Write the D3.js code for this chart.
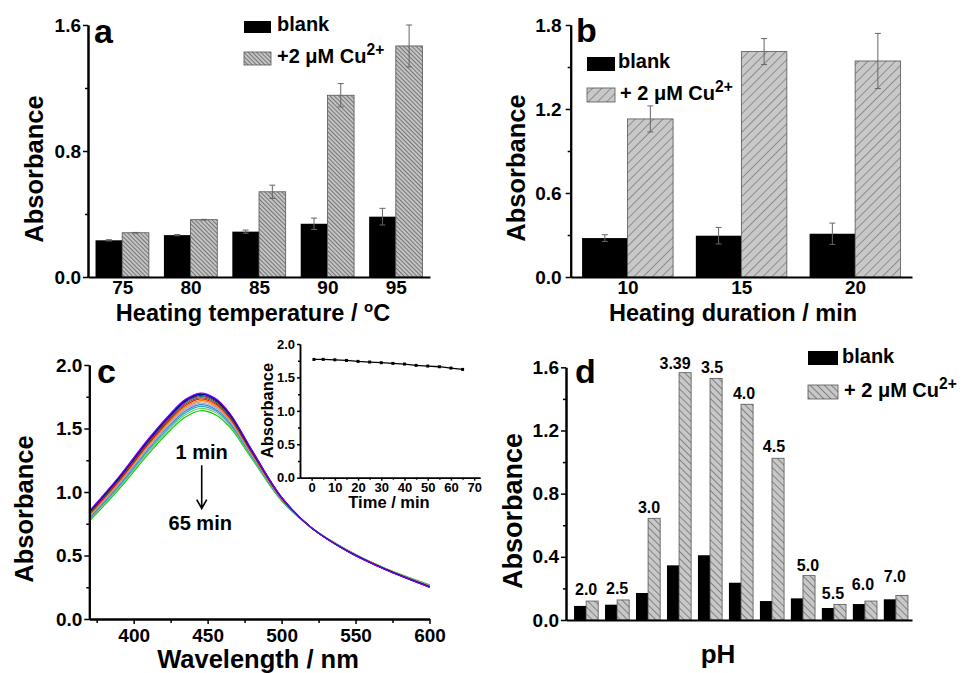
<!DOCTYPE html>
<html>
<head>
<meta charset="utf-8">
<script src="https://cdn.jsdelivr.net/npm/d3@7"></script>
<style>
  body { margin: 0; background: #fff; }
  svg text { font-family: Arial, "Liberation Sans", sans-serif; font-weight: bold; fill: #000; }
  .axis path { stroke: #000; stroke-width: 2; }
  .axis line { stroke: #000; stroke-width: 1.5; }
</style>
</head>
<body>
<svg id="fig" width="970" height="673"></svg>
<script>
// ---- data ----
// (a) heating temperature
const tempCats = [75, 80, 85, 90, 95];
const tempBlank = [0.233, 0.266, 0.288, 0.338, 0.383];
const tempBlankErr = [0.004, 0.004, 0.01, 0.036, 0.053];
const tempCu = [0.281, 0.364, 0.541, 1.154, 1.467];
const tempCuErr = [0.002, 0.002, 0.042, 0.074, 0.133];

// (b) heating duration
const durCats = [10, 15, 20];
const durBlank = [0.278, 0.295, 0.309];
const durBlankErr = [0.024, 0.059, 0.076];
const durCu = [1.129, 1.61, 1.543];
const durCuErr = [0.093, 0.093, 0.197];

// (d) pH
const phCats = ['2.0', '2.5', '3.0', '3.39', '3.5', '4.0', '4.5', '5.0', '5.5', '6.0', '7.0'];
const phBlank = [0.089, 0.097, 0.171, 0.346, 0.41, 0.236, 0.12, 0.137, 0.076, 0.101, 0.131];
const phCu = [0.12, 0.127, 0.644, 1.566, 1.53, 1.366, 1.024, 0.281, 0.099, 0.12, 0.156];

// (c) spectra, one row per time point (1 ... 65 min)
const wavelengths = [370, 390, 410, 425, 435, 445, 455, 465, 480, 500, 520, 545, 570, 600];
const spectra = [
  [0.850, 1.120, 1.420, 1.620, 1.730, 1.780, 1.740, 1.620, 1.330, 0.960, 0.720, 0.530, 0.390, 0.250],
  [0.847, 1.116, 1.415, 1.615, 1.724, 1.774, 1.735, 1.616, 1.327, 0.959, 0.720, 0.530, 0.390, 0.251],
  [0.844, 1.112, 1.410, 1.610, 1.719, 1.769, 1.730, 1.611, 1.324, 0.958, 0.720, 0.531, 0.391, 0.252],
  [0.839, 1.106, 1.403, 1.602, 1.710, 1.760, 1.722, 1.605, 1.320, 0.956, 0.720, 0.531, 0.391, 0.253],
  [0.834, 1.100, 1.396, 1.594, 1.702, 1.752, 1.714, 1.598, 1.316, 0.954, 0.720, 0.532, 0.392, 0.254],
  [0.828, 1.093, 1.388, 1.585, 1.692, 1.742, 1.705, 1.590, 1.311, 0.952, 0.720, 0.533, 0.393, 0.255],
  [0.823, 1.086, 1.379, 1.576, 1.682, 1.732, 1.696, 1.583, 1.306, 0.950, 0.720, 0.533, 0.393, 0.257],
  [0.816, 1.078, 1.370, 1.565, 1.671, 1.721, 1.685, 1.574, 1.301, 0.947, 0.720, 0.534, 0.394, 0.258],
  [0.810, 1.070, 1.360, 1.555, 1.660, 1.710, 1.675, 1.565, 1.295, 0.945, 0.720, 0.535, 0.395, 0.260],
  [0.804, 1.062, 1.350, 1.545, 1.649, 1.699, 1.665, 1.556, 1.289, 0.943, 0.720, 0.536, 0.396, 0.262],
  [0.797, 1.054, 1.341, 1.534, 1.638, 1.688, 1.654, 1.547, 1.284, 0.940, 0.720, 0.537, 0.397, 0.263],
  [0.789, 1.044, 1.329, 1.521, 1.624, 1.674, 1.641, 1.536, 1.277, 0.937, 0.720, 0.538, 0.398, 0.265],
  [0.780, 1.033, 1.316, 1.507, 1.608, 1.658, 1.627, 1.524, 1.269, 0.934, 0.720, 0.539, 0.399, 0.267],
  [0.770, 1.020, 1.300, 1.490, 1.590, 1.640, 1.610, 1.510, 1.260, 0.930, 0.720, 0.540, 0.400, 0.270]
];
const spectraColors = ['#8000ff', '#0000ff', '#000000', '#800080', '#008080', '#804000', '#ff0000',
  '#ff8000', '#c0a080', '#a0a0ff', '#4080c0', '#20b0c0', '#80c060', '#00d000'];

// inset: peak absorbance vs time
const insetTime = [1, 5, 10, 15, 20, 25, 30, 35, 40, 45, 50, 55, 60, 65];
const insetAbs = [1.769, 1.77, 1.764, 1.754, 1.74, 1.73, 1.72, 1.71, 1.70, 1.68, 1.67, 1.66, 1.64, 1.62];

const svg = d3.select('#fig');
svg.append('rect').attr('width', 970).attr('height', 673).attr('fill', '#fff');

// hatch patterns
const defs = svg.append('defs');
function hatch(id, size, angle, bg, line, lw) {
  const p = defs.append('pattern').attr('id', id)
    .attr('patternUnits', 'userSpaceOnUse')
    .attr('width', size).attr('height', size)
    .attr('patternTransform', `rotate(${angle})`);
  p.append('rect').attr('width', size).attr('height', size).attr('fill', bg);
  p.append('line').attr('x1', 0).attr('y1', 0).attr('x2', 0).attr('y2', size)
    .attr('stroke', line).attr('stroke-width', lw);
}
hatch('hatchA', 3, -45, '#c4c4c4', '#4a4a4a', 1.3);
hatch('hatchB', 6.5, 45, '#c8c8c8', '#666', 1.2);
hatch('hatchD', 5, -45, '#c8c8c8', '#555', 1.2);

// axis helpers
function yAxis(x0, y, majors, minors, fmt, pad) {
  svg.append('g').attr('class', 'axis').attr('transform', `translate(${x0},0)`)
    .call(d3.axisLeft(y).tickValues(minors).tickSize(3).tickSizeOuter(0).tickFormat(''));
  svg.append('g').attr('class', 'axis').attr('transform', `translate(${x0},0)`)
    .call(d3.axisLeft(y).tickValues(majors).tickSize(5).tickSizeOuter(0).tickPadding(pad).tickFormat(fmt))
    .selectAll('text').style('font-size', '19px');
}

function label(x, y, txt, size, anchor) {
  return svg.append('text').attr('x', x).attr('y', y)
    .attr('text-anchor', anchor || 'start').style('font-size', size + 'px').text(txt);
}

function yTitle(x, y, size) {
  svg.append('text').attr('transform', `translate(${x},${y}) rotate(-90)`)
    .attr('text-anchor', 'middle').style('font-size', size + 'px').text('Absorbance');
}

function cuLegend(x, y, prefix, size) {
  const t = svg.append('text').attr('x', x).attr('y', y).style('font-size', size + 'px');
  t.append('tspan').text(prefix + ' Cu');
  t.append('tspan').attr('dy', -8).style('font-size', (size * 0.78) + 'px').text('2+');
}

// bar panel: blank on the left of each key, Cu on the right
function barPanel(cfg) {
  const x = d3.scaleLinear().domain(cfg.xDomain).range([cfg.left, cfg.right]);
  const y = d3.scaleLinear().domain([0, cfg.yMax]).range([cfg.bottom, cfg.top]);
  const rows = cfg.keys.map((k, i) => ({
    k, b: cfg.blank[i], u: cfg.cu[i],
    be: cfg.blankErr ? cfg.blankErr[i] : 0, ue: cfg.cuErr ? cfg.cuErr[i] : 0
  }));
  const bw = cfg.bw;
  const g = svg.append('g');

  g.selectAll('rect.blank').data(rows).join('rect').attr('class', 'blank')
    .attr('x', d => x(d.k - bw)).attr('width', d => x(d.k) - x(d.k - bw))
    .attr('y', d => y(d.b)).attr('height', d => y(0) - y(d.b))
    .attr('fill', '#000');

  g.selectAll('rect.cu').data(rows).join('rect').attr('class', 'cu')
    .attr('x', d => x(d.k)).attr('width', d => x(d.k + bw) - x(d.k))
    .attr('y', d => y(d.u)).attr('height', d => y(0) - y(d.u))
    .attr('fill', `url(#${cfg.pattern})`).attr('stroke', '#555').attr('stroke-width', 0.8);

  if (cfg.blankErr) {
    const errs = [];
    rows.forEach(d => {
      errs.push({ cx: d.k - bw / 2, v: d.b, e: d.be });
      errs.push({ cx: d.k + bw / 2, v: d.u, e: d.ue });
    });
    const eg = g.selectAll('g.err').data(errs).join('g').attr('class', 'err')
      .attr('stroke', '#666').attr('stroke-width', 1);
    eg.append('line').attr('x1', d => x(d.cx)).attr('x2', d => x(d.cx))
      .attr('y1', d => y(d.v - d.e)).attr('y2', d => y(d.v + d.e));
    eg.append('line').attr('x1', d => x(d.cx) - 3).attr('x2', d => x(d.cx) + 3)
      .attr('y1', d => y(d.v + d.e)).attr('y2', d => y(d.v + d.e));
    eg.append('line').attr('x1', d => x(d.cx) - 3).attr('x2', d => x(d.cx) + 3)
      .attr('y1', d => y(d.v - d.e)).attr('y2', d => y(d.v - d.e));
  }

  // x axis
  const xa = svg.append('g').attr('class', 'axis').attr('transform', `translate(0,${cfg.bottom})`)
    .call(d3.axisBottom(x).tickValues(cfg.xTicks || []).tickSize(0).tickSizeOuter(0).tickPadding(3));
  xa.selectAll('text').style('font-size', '19px');
  yAxis(cfg.left, y, cfg.yMajors, cfg.yMinors, d3.format('.1f'), cfg.yPad);
  return { x, y };
}

// ---- panel a ----
barPanel({
  left: 88, right: 430, top: 25, bottom: 277, xDomain: [72.5, 97.5], yMax: 1.6, bw: 1.95,
  keys: tempCats, blank: tempBlank, cu: tempCu, blankErr: tempBlankErr, cuErr: tempCuErr,
  pattern: 'hatchA', xTicks: tempCats, yMajors: [0, 0.8, 1.6], yMinors: [0.4, 1.2], yPad: 2
});
label(94, 43, 'a', 34);
yTitle(43, 169, 25.5);
const ta = label(253, 321, 'Heating temperature / ', 23.5, 'middle');
ta.append('tspan').attr('dy', -9).style('font-size', '15px').text('o');
ta.append('tspan').attr('dy', 9).text('C');
svg.append('rect').attr('x', 244).attr('y', 21).attr('width', 27).attr('height', 12).attr('fill', '#000');
label(277, 31, 'blank', 20);
svg.append('rect').attr('x', 244).attr('y', 52).attr('width', 27).attr('height', 13)
  .attr('fill', 'url(#hatchA)').attr('stroke', '#555').attr('stroke-width', 0.8);
cuLegend(277, 63, '+2 μM', 20);

// ---- panel b ----
barPanel({
  left: 570.7, right: 912, top: 25, bottom: 277, xDomain: [7.5, 22.5], yMax: 1.8, bw: 2,
  keys: durCats, blank: durBlank, cu: durCu, blankErr: durBlankErr, cuErr: durCuErr,
  pattern: 'hatchB', xTicks: durCats, yMajors: [0, 0.6, 1.2, 1.8], yMinors: [0.3, 0.9, 1.5], yPad: 4
});
label(576, 42, 'b', 34);
yTitle(525, 168, 25.5);
label(733, 321, 'Heating duration / min', 23.5, 'middle');
svg.append('rect').attr('x', 587).attr('y', 57).attr('width', 28).attr('height', 14).attr('fill', '#000');
label(618, 68, 'blank', 20);
svg.append('rect').attr('x', 587).attr('y', 88).attr('width', 28).attr('height', 14)
  .attr('fill', 'url(#hatchB)').attr('stroke', '#555').attr('stroke-width', 0.8);
cuLegend(620, 100, '+ 2 μM', 20);

// ---- panel d ----
const pd = barPanel({
  left: 566, right: 912, top: 367.3, bottom: 620, xDomain: [0.35, 11.52], yMax: 1.6, bw: 0.39,
  keys: phCats.map((c, i) => i + 1), blank: phBlank, cu: phCu,
  pattern: 'hatchD', yMajors: [0, 0.4, 0.8, 1.2, 1.6], yMinors: [0.2, 0.6, 1.0, 1.4], yPad: 2
});
const phLift = [6, 6, 5, 4, 5, 5, 6, 5, 5, 11, 13];
const phShift = [0, 0, 1, -4, 2, 3, 2, 5, -1, -2, -1];
svg.append('g').selectAll('text').data(phCats).join('text')
  .attr('x', (d, i) => pd.x(i + 1) + phShift[i])
  .attr('y', (d, i) => pd.y(Math.max(phCu[i], phBlank[i])) - phLift[i])
  .attr('text-anchor', 'middle').style('font-size', '16px').text(d => d);
label(575, 383, 'd', 34);
yTitle(522, 511, 27);
label(718, 663, 'pH', 26, 'middle');
svg.append('rect').attr('x', 808).attr('y', 351).attr('width', 30).attr('height', 14).attr('fill', '#000');
label(842, 363, 'blank', 20);
svg.append('rect').attr('x', 808).attr('y', 385).attr('width', 30).attr('height', 14)
  .attr('fill', 'url(#hatchD)').attr('stroke', '#555').attr('stroke-width', 0.8);
cuLegend(844, 397, '+ 2 μM', 20);

// ---- panel c ----
const xc = d3.scaleLinear().domain([370, 600]).range([89.3, 429.5]);
const yc = d3.scaleLinear().domain([0, 2]).range([619, 365]);
const line = d3.line().x((d, i) => xc(wavelengths[i])).y(d => yc(d)).curve(d3.curveCatmullRom);
svg.append('g').selectAll('path').data(spectra.slice().reverse()).join('path')
  .attr('d', line).attr('fill', 'none')
  .attr('stroke', (d, i) => spectraColors[spectraColors.length - 1 - i]).attr('stroke-width', 1.1);

svg.append('g').attr('class', 'axis').attr('transform', 'translate(0,619)')
  .call(d3.axisBottom(xc).tickValues([375, 425, 475, 525, 575]).tickSize(4).tickSizeOuter(0).tickFormat(''));
svg.append('g').attr('class', 'axis').attr('transform', 'translate(0,619)')
  .call(d3.axisBottom(xc).tickValues([400, 450, 500, 550, 600]).tickSize(5).tickSizeOuter(0).tickPadding(5))
  .selectAll('text').style('font-size', '19px');
yAxis(89.3, yc, [0, 0.5, 1.0, 1.5, 2.0], [0.25, 0.75, 1.25, 1.75], d3.format('.1f'), 2);
label(97, 383, 'c', 34);
yTitle(33, 509, 25.5);
label(258, 668, 'Wavelength / nm', 25.5, 'middle');

// annotation
label(xc(446), yc(1.26), '1 min', 20, 'middle');
svg.append('path')
  .attr('d', `M${xc(446)},${yc(1.21)} V${yc(0.87)} M${xc(446) - 5},${yc(0.94)} L${xc(446)},${yc(0.87)} L${xc(446) + 5},${yc(0.94)}`)
  .attr('fill', 'none').attr('stroke', '#000').attr('stroke-width', 1.6);
label(xc(445), yc(0.7), '65 min', 20, 'middle');

// inset
const xi = d3.scaleLinear().domain([-5, 72.5]).range([300, 480]);
const yi = d3.scaleLinear().domain([0, 2]).range([477.7, 344]);
svg.append('path').datum(insetAbs)
  .attr('d', d3.line().x((d, i) => xi(insetTime[i])).y(d => yi(d)))
  .attr('fill', 'none').attr('stroke', '#000').attr('stroke-width', 1.3);
svg.append('g').selectAll('rect').data(insetAbs).join('rect')
  .attr('x', (d, i) => xi(insetTime[i]) - 1.5).attr('y', d => yi(d) - 1.5)
  .attr('width', 3).attr('height', 3).attr('fill', '#000');
const insetAxes = svg.append('g');
insetAxes.append('g').attr('class', 'axis').attr('transform', 'translate(0,477.7)')
  .call(d3.axisBottom(xi).tickValues(d3.range(5, 70, 10)).tickSize(2).tickSizeOuter(0).tickFormat(''));
insetAxes.append('g').attr('class', 'axis').attr('transform', 'translate(0,477.7)')
  .call(d3.axisBottom(xi).tickValues(d3.range(0, 71, 10)).tickSize(3).tickSizeOuter(0).tickPadding(2))
  .selectAll('text').style('font-size', '13px');
insetAxes.append('g').attr('class', 'axis').attr('transform', 'translate(300,0)')
  .call(d3.axisLeft(yi).tickValues([0.25, 0.75, 1.25, 1.75]).tickSize(2).tickSizeOuter(0).tickFormat(''));
insetAxes.append('g').attr('class', 'axis').attr('transform', 'translate(300,0)')
  .call(d3.axisLeft(yi).tickValues([0, 0.5, 1, 1.5, 2]).tickSize(3).tickSizeOuter(0).tickPadding(2).tickFormat(d3.format('.1f')))
  .selectAll('text').style('font-size', '13px');
insetAxes.selectAll('.axis path').style('stroke-width', 1.5);
svg.append('text').attr('transform', 'translate(273,410.5) rotate(-90)')
  .attr('text-anchor', 'middle').style('font-size', '16.5px').text('Absorbance');
label(389, 508, 'Time / min', 16.5, 'middle');
</script>
</body>
</html>
